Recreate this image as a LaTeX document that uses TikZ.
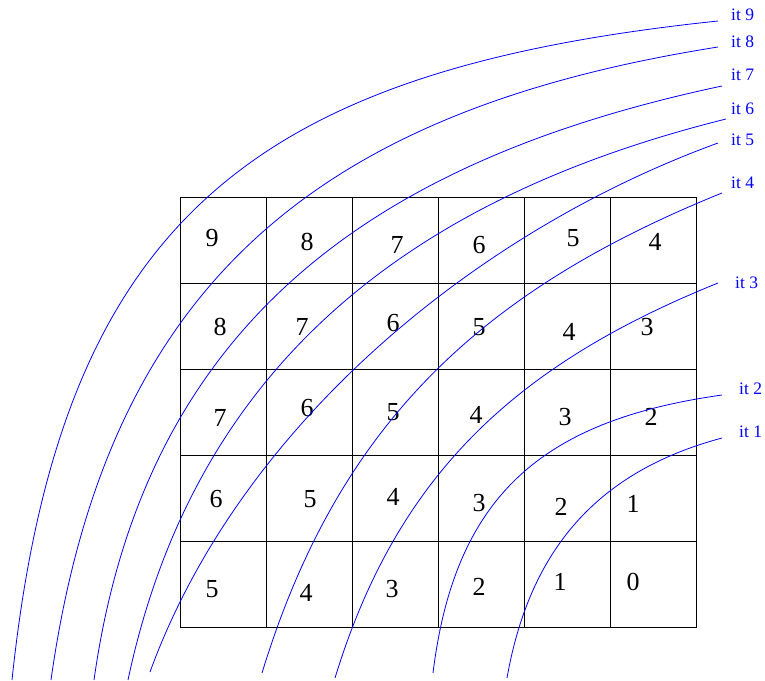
\documentclass[tikz,border=0pt]{standalone}
\usepackage{fontspec}
\setmainfont{Liberation Serif}
\begin{document}
\begin{tikzpicture}[x=1pt,y=1pt,
  cell/.style={draw=black,line width=0.9pt},
  num/.style={inner sep=0pt,font=\fontsize{26}{28}\selectfont},
  itlab/.style={inner sep=0pt,anchor=west,text=blue,font=\fontsize{17.5}{19}\selectfont},
  wave/.style={draw=blue,line width=0.8pt}]
\useasboundingbox (0,0) rectangle (765,-680);
% grid
\begin{scope}[shift={(180,-197)}]
\draw[cell] (0,0) grid[xstep=86,ystep=86] (516,-430);
\draw[cell] (0,0) rectangle (516,-430);
\end{scope}
% numbers row 1
\node[num] (n11) at (212,-238) {9};
\node[num] (n12) at (307,-242) {8};
\node[num] (n13) at (397,-245) {7};
\node[num] (n14) at (479,-245) {6};
\node[num] (n15) at (573,-238) {5};
\node[num] (n16) at (655,-242) {4};
% row 2
\node[num] (n21) at (220,-327) {8};
\node[num] (n22) at (302,-327) {7};
\node[num] (n23) at (393,-323) {6};
\node[num] (n24) at (479,-327) {5};
\node[num] (n25) at (569,-332) {4};
\node[num] (n26) at (647,-327) {3};
% row 3
\node[num] (n31) at (220,-418) {7};
\node[num] (n32) at (307,-408) {6};
\node[num] (n33) at (393,-412) {5};
\node[num] (n34) at (476,-415) {4};
\node[num] (n35) at (565,-417) {3};
\node[num] (n36) at (651,-417) {2};
% row 4
\node[num] (n41) at (216,-499) {6};
\node[num] (n42) at (310,-499) {5};
\node[num] (n43) at (393,-497) {4};
\node[num] (n44) at (479,-503) {3};
\node[num] (n45) at (561,-507) {2};
\node[num] (n46) at (633,-504) {1};
% row 5
\node[num] (n51) at (212,-589) {5};
\node[num] (n52) at (306,-593) {4};
\node[num] (n53) at (392,-589) {3};
\node[num] (n54) at (479,-587) {2};
\node[num] (n55) at (560,-582) {1};
\node[num] (n56) at (633,-582) {0};
% labels
\node[itlab] (l9) at (731,-15) {it 9};
\node[itlab] (l8) at (731,-42) {it 8};
\node[itlab] (l7) at (731,-75) {it 7};
\node[itlab] (l6) at (731,-109) {it 6};
\node[itlab] (l5) at (731,-140) {it 5};
\node[itlab] (l4) at (731,-183) {it 4};
\node[itlab] (l3) at (735,-283) {it 3};
\node[itlab] (l2) at (739,-389) {it 2};
\node[itlab] (l1) at (739,-432) {it 1};
% curve ends
\coordinate (b9) at (12,-680);  \coordinate (e9) at (718,-21);
\coordinate (b8) at (51,-680);  \coordinate (e8) at (718,-47);
\coordinate (b7) at (94,-680);  \coordinate (e7) at (722,-86);
\coordinate (b6) at (128,-680); \coordinate (e6) at (726,-119);
\coordinate (b5) at (150,-672); \coordinate (e5) at (718,-143);
\coordinate (b4) at (262,-673); \coordinate (e4) at (722,-193);
\coordinate (b3) at (335,-678); \coordinate (e3) at (718,-283);
\coordinate (b2) at (433,-673); \coordinate (e2) at (722,-395);
\coordinate (b1) at (507,-678); \coordinate (e1) at (722,-438);
\draw[wave] (b9) to[out=84,in=186,looseness=1.23] (e9);
\draw[wave] (b8) to[out=82,in=189,looseness=1.12] (e8);
\draw[wave] (b7) to[out=82,in=192,looseness=1.06] (e7);
\draw[wave] (b6) to[out=78,in=194,looseness=1.01] (e6);
\draw[wave] (b5) to[out=70,in=200,looseness=0.86] (e5);
\draw[wave] (b4) to[out=73,in=202,looseness=1.0] (e4);
\draw[wave] (b3) to[out=73,in=202,looseness=1.0] (e3);
\draw[wave] (b2) to[out=83,in=188,looseness=1.15] (e2);
\draw[wave] (b1) to[out=80,in=195,looseness=1.03] (e1);
\end{tikzpicture}
\end{document}
